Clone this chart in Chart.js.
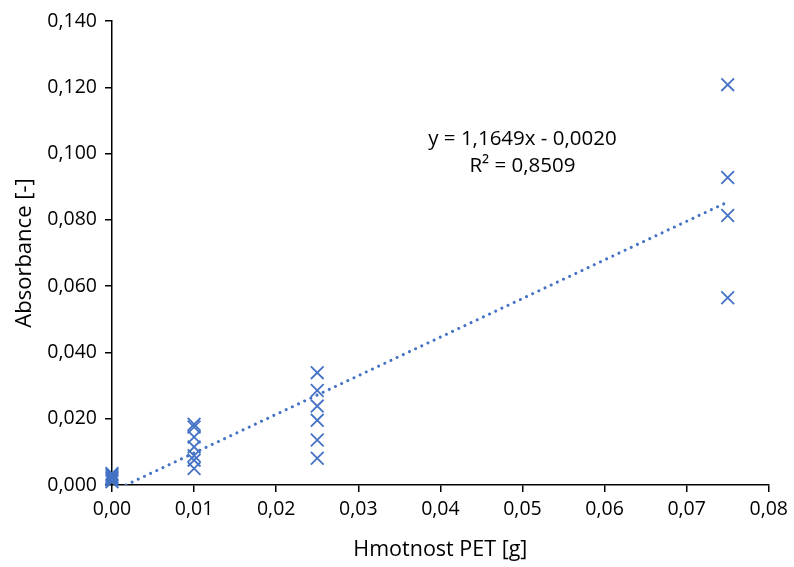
<!DOCTYPE html>
<html>
<head>
<meta charset="utf-8">
<script src="https://cdn.jsdelivr.net/npm/chart.js@4/dist/chart.umd.min.js"></script>
<style>
  html, body { margin: 0; padding: 0; background: #fff; }
  #wrap { width: 794px; height: 567px; position: relative; }
</style>
</head>
<body>
<div id="wrap"><canvas id="chart" width="794" height="567"></canvas></div>
<script>
"use strict";

// Measured points (mass of PET in g -> absorbance)
const massX = [
  0, 0, 0, 0, 0, 0,
  0.01, 0.01, 0.01, 0.01, 0.01, 0.01, 0.01,
  0.025, 0.025, 0.025, 0.025, 0.025, 0.025,
  0.075, 0.075, 0.075, 0.075,
];
const absorbY = [
  0.001, 0.0015, 0.002, 0.0025, 0.003, 0.0035,
  0.0183, 0.0175, 0.0145, 0.0115, 0.0088, 0.0075, 0.005,
  0.0339, 0.0285, 0.0238, 0.0195, 0.0136, 0.0081,
  0.1208, 0.0928, 0.0813, 0.0565,
];

// Linear trendline endpoints (clipped at y = 0)
const trendX = [0.0017, 0.075];
const trendY = [0, 0.0854];

const equationLines = ["y = 1,1649x - 0,0020", "R² = 0,8509"];
const equationAt = { x: 0.05, y: 0.1 };

const xTicks = [0, 0.01, 0.02, 0.03, 0.04, 0.05, 0.06, 0.07, 0.08];
const yTicks = [0, 0.02, 0.04, 0.06, 0.08, 0.1, 0.12, 0.14];

const BLUE = "#4472C4";
const FONT = "'Open Sans', 'Liberation Sans', sans-serif";

const fmt = (v, d) => v.toFixed(d).replace(".", ",");

const equationPlugin = {
  id: "equation",
  afterDatasetsDraw(chart) {
    const { ctx, scales } = chart;
    const px = scales.x.getPixelForValue(equationAt.x);
    const py = scales.y.getPixelForValue(equationAt.y);
    ctx.save();
    ctx.font = `20.5px ${FONT}`;
    ctx.fillStyle = "#000";
    ctx.textAlign = "center";
    ctx.textBaseline = "middle";
    equationLines.forEach((line, i) => ctx.fillText(line, px, py - 14 + i * 27));
    ctx.restore();
  },
};

const points = massX.map((x, i) => ({ x, y: absorbY[i] }));
const trend = trendX.map((x, i) => ({ x, y: trendY[i] }));

new Chart(document.getElementById("chart").getContext("2d"), {
  type: "scatter",
  data: {
    datasets: [
      {
        data: points,
        pointStyle: "crossRot",
        pointRadius: 9,
        pointBorderWidth: 1.8,
        borderColor: BLUE,
        backgroundColor: BLUE,
        clip: false,
        order: 1,
      },
      {
        type: "line",
        data: trend,
        showLine: true,
        borderColor: BLUE,
        borderWidth: 3,
        borderDash: [0.01, 6.8],
        borderCapStyle: "round",
        pointRadius: 0,
        fill: false,
        order: 2,
      },
    ],
  },
  options: {
    responsive: false,
    animation: false,
    events: [],
    layout: { padding: { top: 21, right: 24, left: 0, bottom: 0 } },
    plugins: { legend: { display: false }, tooltip: { enabled: false } },
    scales: {
      x: {
        type: "linear",
        min: 0,
        max: 0.08,
        afterBuildTicks: (s) => { s.ticks = xTicks.map((v) => ({ value: v })); },
        afterFit: (s) => { s.height = 82; },
        grid: { display: true, drawOnChartArea: false, drawTicks: true, tickLength: 7, color: "#000", lineWidth: 1.5 },
        border: { color: "#000", width: 1.5 },
        ticks: { color: "#000", font: { family: FONT, size: 19.5 }, padding: 6, maxRotation: 0, callback: (v) => fmt(v, 2) },
        title: { display: true, text: "Hmotnost PET [g]", color: "#000", font: { family: FONT, size: 21.5 }, padding: { top: 8 } },
      },
      y: {
        type: "linear",
        min: 0,
        max: 0.14,
        afterBuildTicks: (s) => { s.ticks = yTicks.map((v) => ({ value: v })); },
        afterFit: (s) => { s.width = 112; },
        grid: { display: true, drawOnChartArea: false, drawTicks: true, tickLength: 7, color: "#000", lineWidth: 1.5 },
        border: { color: "#000", width: 1.5 },
        ticks: { color: "#000", font: { family: FONT, size: 19.5 }, padding: 8, callback: (v) => fmt(v, 3) },
        title: { display: true, text: "Absorbance [-]", color: "#000", font: { family: FONT, size: 22 }, padding: { top: 12 } },
      },
    },
  },
  plugins: [equationPlugin],
});
</script>
</body>
</html>
